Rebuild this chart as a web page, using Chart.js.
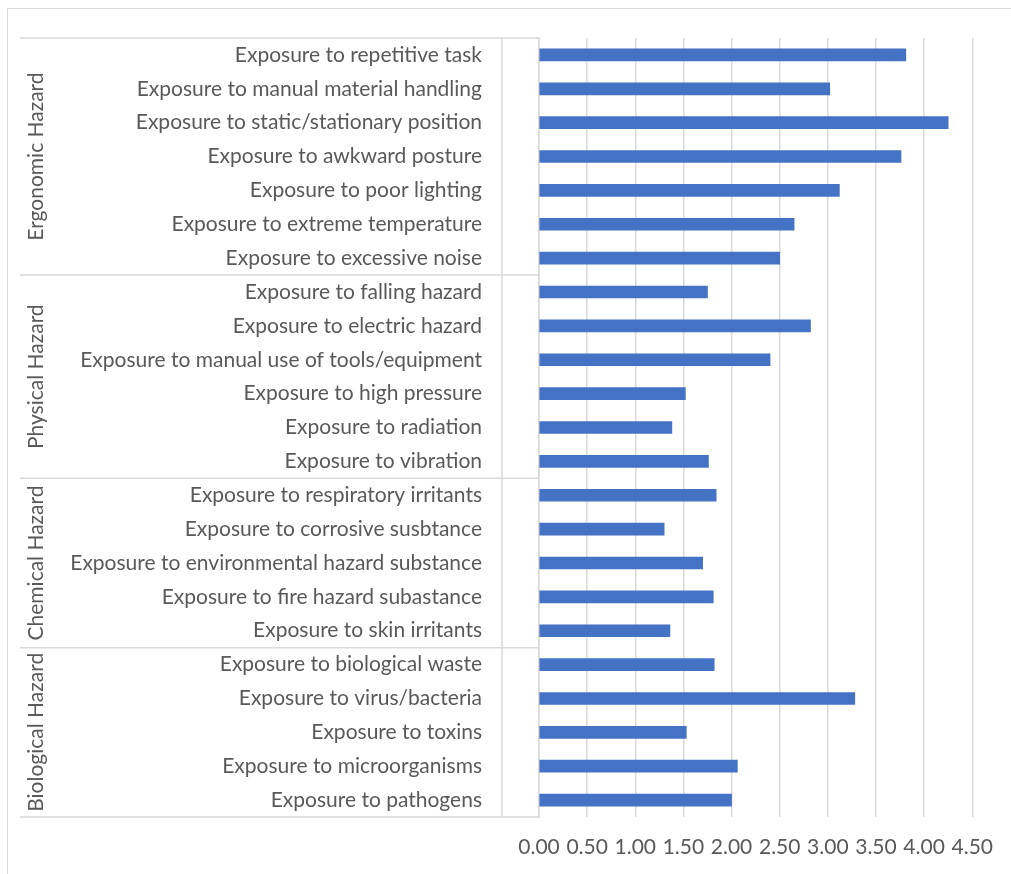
<!DOCTYPE html>
<html>
<head>
<meta charset="utf-8">
<script src="https://cdn.jsdelivr.net/npm/chart.js@4.4.1/dist/chart.umd.min.js"></script>
<style>
  html, body { margin: 0; padding: 0; background: #fff; overflow: hidden; }
  #frame {
    position: absolute; left: 7px; top: 8px; width: 1100px; height: 1000px;
    border: 1.5px solid #d9d9d9; box-sizing: border-box;
  }
  #wrap { position: absolute; left: 0; top: 0; width: 1011px; height: 874px; }
</style>
</head>
<body>
<div id="frame"></div>
<div id="wrap"><canvas id="chart"></canvas></div>
<script>
// Hazard items, top to bottom
const labels = [
    'Exposure to repetitive task',
    'Exposure to manual material handling',
    'Exposure to static/stationary position',
    'Exposure to awkward posture',
    'Exposure to poor lighting',
    'Exposure to extreme temperature',
    'Exposure to excessive noise',
    'Exposure to falling hazard',
    'Exposure to electric hazard',
    'Exposure to manual use of tools/equipment',
    'Exposure to high pressure',
    'Exposure to radiation',
    'Exposure to vibration',
    'Exposure to respiratory irritants',
    'Exposure to corrosive susbtance',
    'Exposure to environmental hazard substance',
    'Exposure to fire hazard subastance',
    'Exposure to skin irritants',
    'Exposure to biological waste',
    'Exposure to virus/bacteria',
    'Exposure to toxins',
    'Exposure to microorganisms',
    'Exposure to pathogens'
];

const meanScores = [
    3.81, 3.02, 4.25, 3.76, 3.12, 2.65, 2.50,
    1.75, 2.82, 2.40, 1.52, 1.38, 1.76,
    1.84, 1.30, 1.70, 1.81, 1.36,
    1.82, 3.28, 1.53, 2.06, 2.00
];

const groupNames = ['Ergonomic Hazard', 'Physical Hazard', 'Chemical Hazard', 'Biological Hazard'];
const groupSizes = [7, 6, 5, 5];

const xTicks = [0, 0.5, 1, 1.5, 2, 2.5, 3, 3.5, 4, 4.5];

const FONT = 'Lato';
const GREY_TEXT = '#595959';
const LINE = '#d9d9d9';

// draws the outer category level (group names + separator lines)
const groupAxis = {
    id: 'groupAxis',
    afterDraw(chart) {
        const { ctx, chartArea, scales } = chart;
        const y = scales.y;
        const step = y.getPixelForValue(1) - y.getPixelForValue(0);
        const lineLeft = 20;
        const innerX = chartArea.left - 37;

        ctx.save();
        ctx.strokeStyle = LINE;
        ctx.lineWidth = 1.5;

        let start = 0;
        const edges = [y.getPixelForValue(0) - step / 2];
        groupSizes.forEach(n => {
            start += n;
            edges.push(y.getPixelForValue(start - 1) + step / 2);
        });

        edges.forEach(py => {
            ctx.beginPath();
            ctx.moveTo(lineLeft, py);
            ctx.lineTo(chartArea.left, py);
            ctx.stroke();
        });
        ctx.beginPath();
        ctx.moveTo(innerX, edges[0]);
        ctx.lineTo(innerX, edges[edges.length - 1]);
        ctx.stroke();

        ctx.fillStyle = GREY_TEXT;
        ctx.font = `21px ${FONT}`;
        ctx.textAlign = 'center';
        ctx.textBaseline = 'middle';
        groupNames.forEach((name, i) => {
            const mid = (edges[i] + edges[i + 1]) / 2;
            ctx.save();
            ctx.translate(36, mid);
            ctx.rotate(-Math.PI / 2);
            ctx.fillText(name, 0, 0);
            ctx.restore();
        });
        ctx.restore();
    }
};

new Chart(document.getElementById('chart'), {
    type: 'bar',
    data: {
        labels: labels,
        datasets: [{
            data: meanScores,
            backgroundColor: '#4472c4',
            borderWidth: 0,
            barThickness: 12
        }]
    },
    options: {
        indexAxis: 'y',
        responsive: true,
        maintainAspectRatio: false,
        animation: false,
        layout: { padding: { left: 20, right: 38, top: 38, bottom: 14 } },
        plugins: {
            legend: { display: false },
            tooltip: { enabled: false }
        },
        scales: {
            x: {
                min: 0,
                max: 4.5,
                afterBuildTicks: (scale) => {
                    scale.ticks = xTicks.map(v => ({ value: v }));
                },
                // chart.js counts tick padding twice, keep the band tight
                afterFit: (scale) => { scale.height = 43; },
                grid: { color: LINE, lineWidth: 1.5, drawTicks: false },
                border: { display: false },
                ticks: {
                    color: GREY_TEXT,
                    padding: 18,
                    maxRotation: 0,
                    autoSkip: false,
                    font: { family: FONT, size: 21 },
                    callback: (v) => Number(v).toFixed(2)
                }
            },
            y: {
                afterFit: (scale) => {
                    scale.width = 519;
                    // label padding should not push the plot area down
                    scale.paddingTop = 0;
                    scale.paddingBottom = 0;
                },
                grid: { display: false, drawTicks: false },
                border: { display: true, color: LINE, width: 1.5 },
                ticks: {
                    color: GREY_TEXT,
                    padding: 57,
                    autoSkip: false,
                    font: { family: FONT, size: 21 }
                }
            }
        }
    },
    plugins: [groupAxis]
});
</script>
</body>
</html>
